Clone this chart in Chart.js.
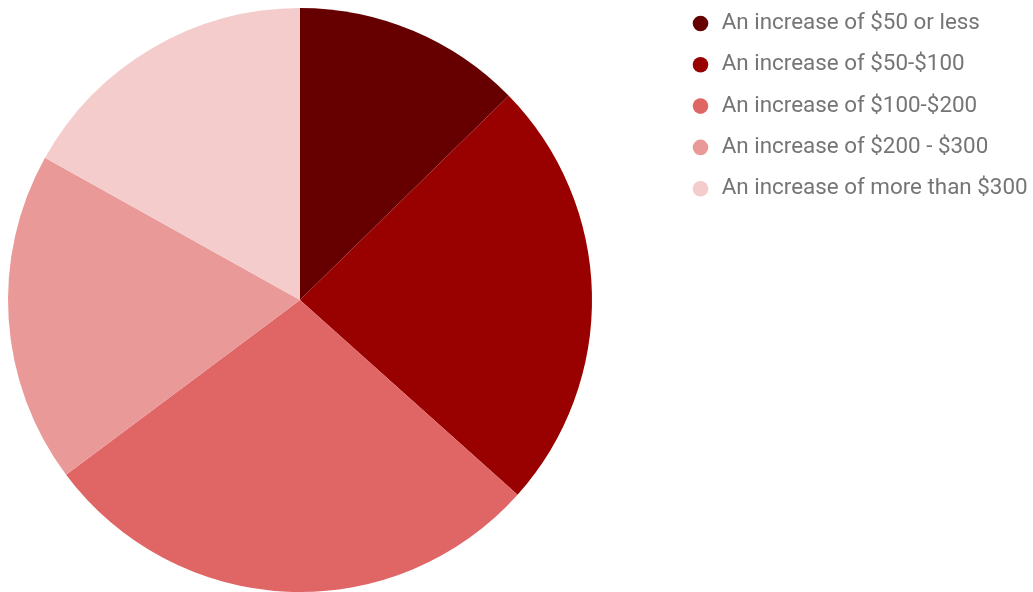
<!DOCTYPE html>
<html>
<head>
<meta charset="utf-8">
<script src="https://cdn.jsdelivr.net/npm/chart.js@4/dist/chart.umd.min.js"></script>
<style>
  html, body { margin: 0; padding: 0; background: #fff; }
  canvas { display: block; }
</style>
</head>
<body>
<canvas id="chart" width="1033" height="592"></canvas>
<script>
const labels = [
  'An increase of $50 or less',
  'An increase of $50-$100',
  'An increase of $100-$200',
  'An increase of $200 - $300',
  'An increase of more than $300',
];
const responses = [9, 17, 20, 13, 12];
const sliceColors = ['#660000', '#990000', '#e06666', '#ea9999', '#f4cccc'];

const LEGEND_LEFT = 671.6;
const LEGEND_TOP = -6.6;

// keep the pie in a square on the left and pin the legend column
const pieLayout = {
  id: 'pieLayout',
  afterLayout: chart => {
    const area = chart.chartArea;
    area.width = area.bottom - area.top;
    area.right = area.left + area.width;
    const legend = chart.legend;
    legend.left = LEGEND_LEFT;
    legend.right = LEGEND_LEFT + legend.width + 10;
    legend.top = LEGEND_TOP;
  },
};

new Chart(document.getElementById('chart'), {
  type: 'pie',
  data: {
    labels,
    datasets: [{
      data: responses,
      backgroundColor: sliceColors,
      borderWidth: 0,
    }],
  },
  plugins: [pieLayout],
  options: {
    responsive: false,
    animation: false,
    layout: {
      padding: { top: 8, left: 8, right: 0, bottom: 0 },
    },
    plugins: {
      legend: {
        position: 'right',
        align: 'start',
        labels: {
          usePointStyle: true,
          pointStyle: 'circle',
          boxWidth: 20,
          boxHeight: 11,
          padding: 18.9,
          color: '#757575',
          font: { family: 'Roboto', size: 22.4 },
        },
      },
      tooltip: { enabled: false },
    },
  },
});
</script>
</body>
</html>
